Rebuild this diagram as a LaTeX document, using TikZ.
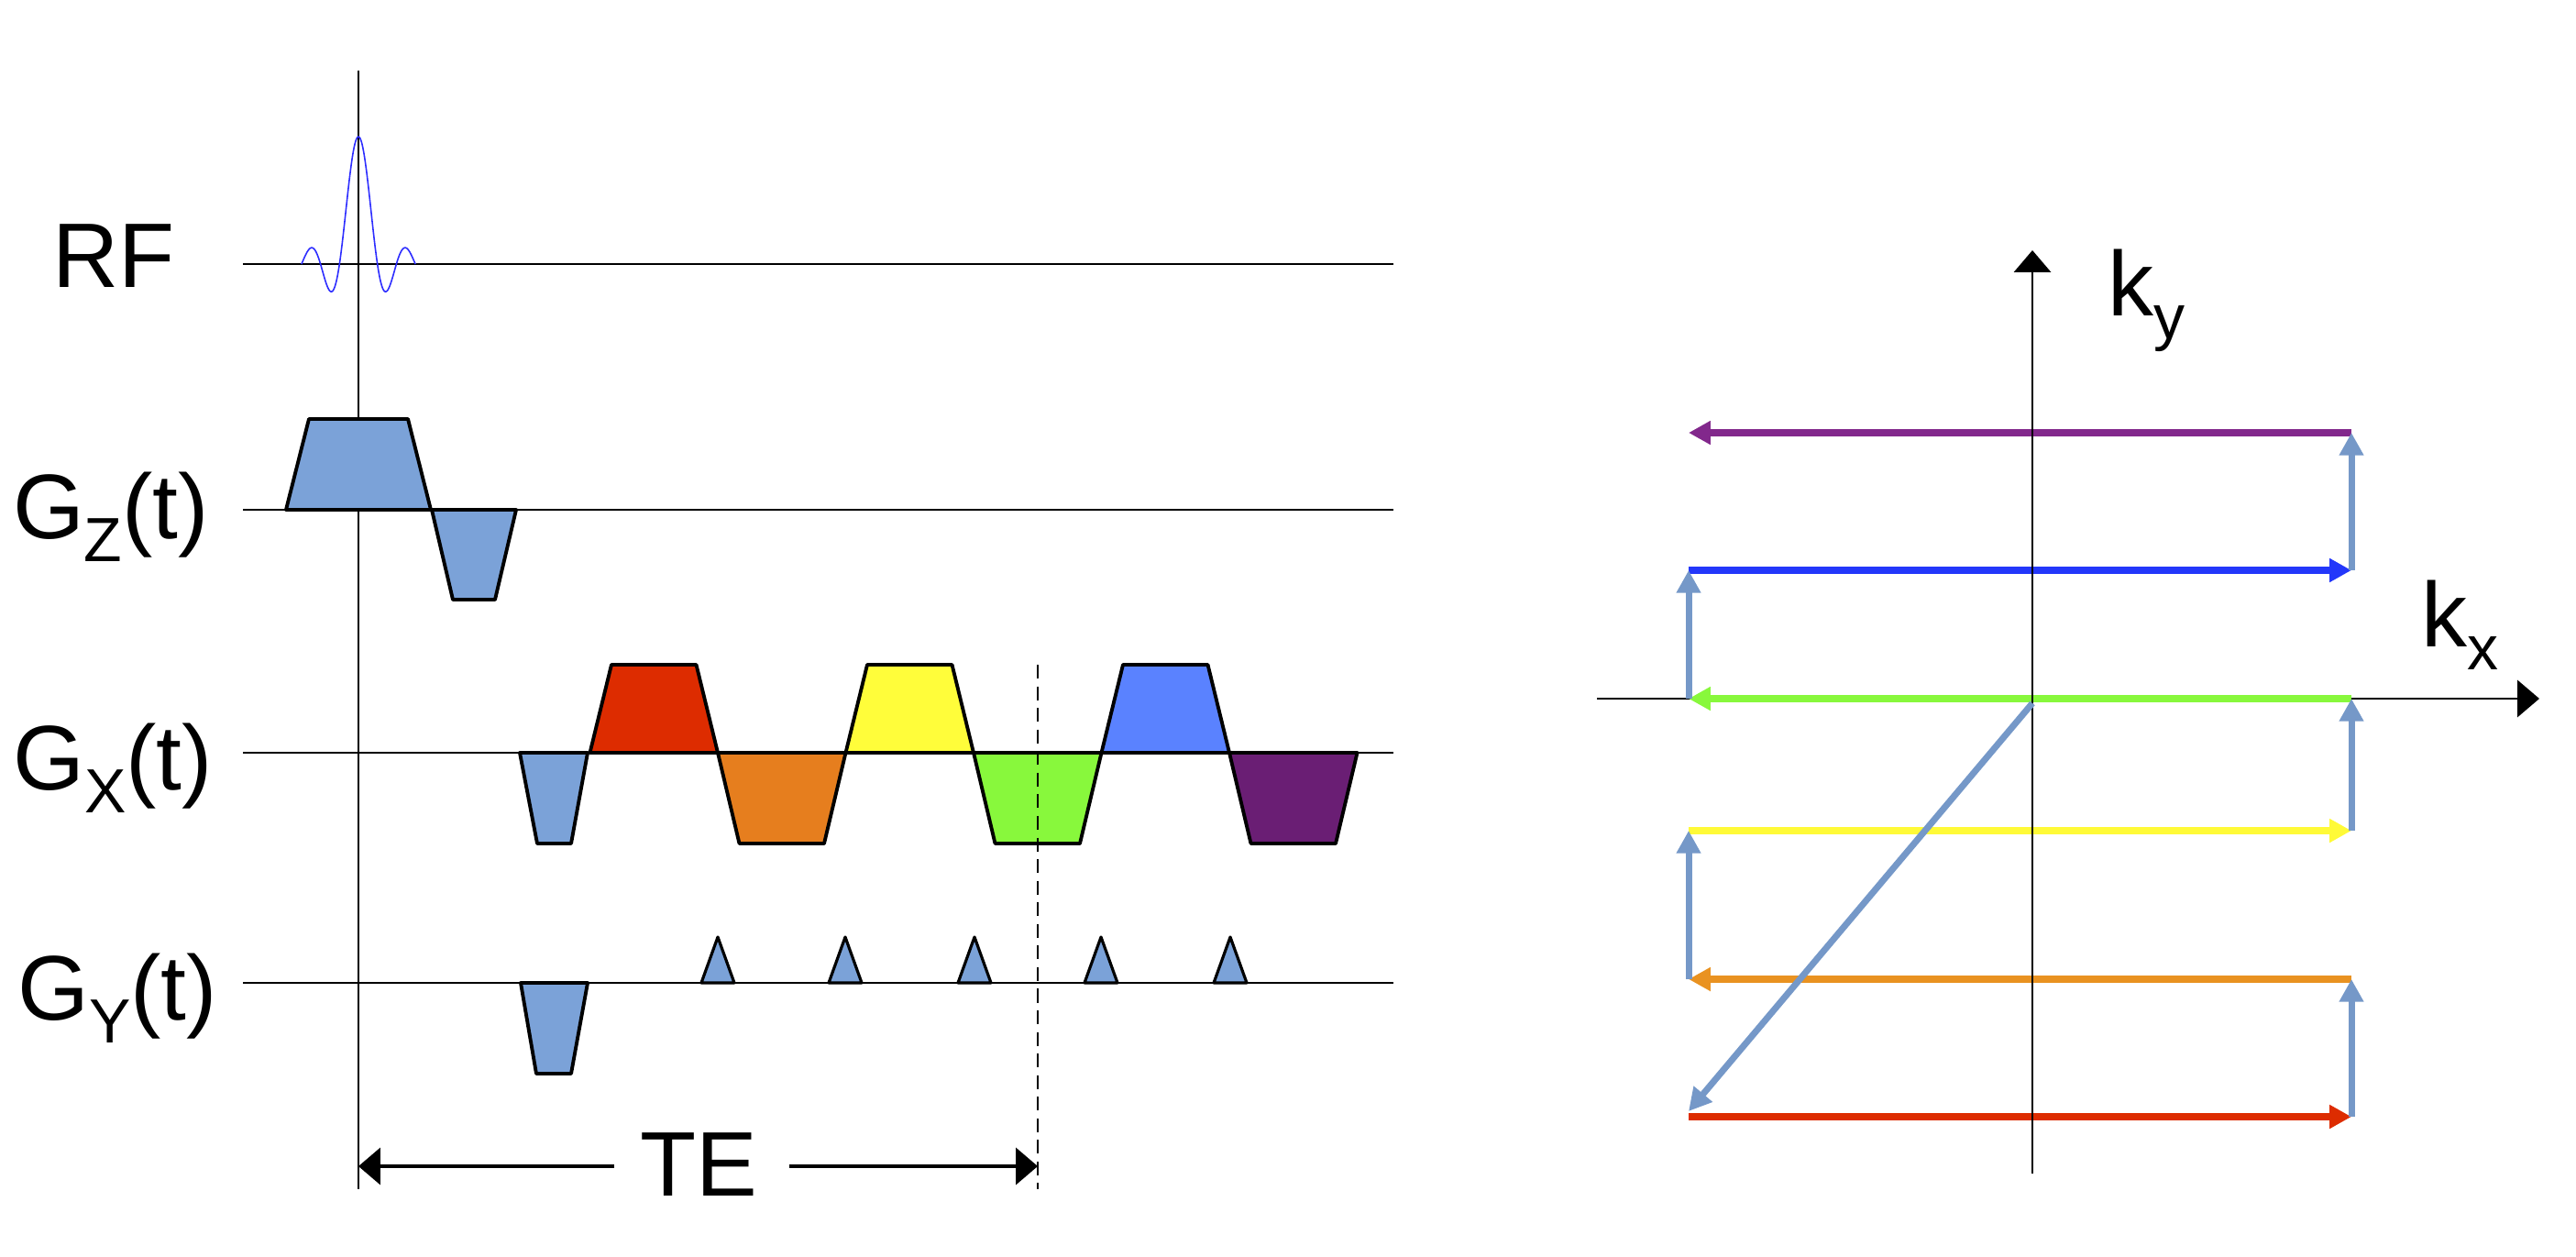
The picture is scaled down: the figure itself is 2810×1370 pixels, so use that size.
\documentclass[tikz,border=0pt]{standalone}
\usepackage{fontspec}
\setmainfont{Liberation Sans}
\usetikzlibrary{arrows.meta}
\definecolor{lobeblue}{RGB}{123,162,216}
\definecolor{gxred}{RGB}{221,44,0}
\definecolor{gxorange}{RGB}{230,126,30}
\definecolor{gxyellow}{RGB}{255,253,58}
\definecolor{gxgreen}{RGB}{136,248,60}
\definecolor{gxblue}{RGB}{90,130,255}
\definecolor{gxpurple}{RGB}{106,30,116}
\definecolor{kpurple}{RGB}{130,40,140}
\definecolor{kblue}{RGB}{35,55,250}
\definecolor{kgreen}{RGB}{136,248,60}
\definecolor{kyellow}{RGB}{255,250,55}
\definecolor{korange}{RGB}{233,146,33}
\definecolor{kred}{RGB}{221,44,0}
\definecolor{kstep}{RGB}{117,152,200}
\definecolor{rfblue}{RGB}{45,45,255}
\newcommand\lsub[1]{\raisebox{-7.2pt}{\fontsize{19.35pt}{20pt}\selectfont #1}}
\tikzset{
  axisline/.style={line width=0.8pt, black},
  lobe/.style={draw=black, line width=1.1pt, line join=round},
  blip/.style={draw=black, line width=0.9pt, line join=round, fill=lobeblue},
  lbl/.style={inner sep=0pt, anchor=base, font=\fontsize{28.45pt}{32pt}\selectfont},
  bigtip/.style={-{Triangle[length=6.8pt,width=11.4pt]}},
  kline/.style={line width=2.3pt, -{Triangle[length=6.8pt,width=7pt]}},
  kstepline/.style={line width=2pt, kstep, -{Triangle[length=7pt,width=7.2pt]}},
}
\begin{document}
\begin{tikzpicture}[x=0.01cm, y=-0.01cm]
\useasboundingbox (0,0) rectangle (2810,1370);
% ---------------- pulse sequence ----------------
% baselines
\draw[axisline] (265,288) coordinate (rfa) -- (1520,288) coordinate (rfb);
\draw[axisline] (265,556) coordinate (gza) -- (1520,556) coordinate (gzb);
\draw[axisline] (265,821) coordinate (gxa) -- (1520,821) coordinate (gxb);
\draw[axisline] (265,1072) coordinate (gya) -- (1520,1072) coordinate (gyb);
% time axis
\draw[axisline] (391,77) coordinate (ta) -- (391,1297) coordinate (tb);
% RF sinc pulse
\draw[rfblue, line width=0.45pt] plot[domain=-3:3, samples=120, smooth]
  ({391+20.7*\x}, {288-139*sin(180*\x)/(pi*\x)});
% Gz
\draw[lobe, fill=lobeblue] (312,556) -- (337,457) -- (445,457) -- (470,556) -- cycle;
\draw[lobe, fill=lobeblue] (471,556) -- (494,654) -- (540,654) -- (563,556) -- cycle;
% Gx prephaser
\draw[lobe, fill=lobeblue] (567,821) -- (586,920) -- (623,920) -- (641,821) -- cycle;
% Gx readout lobes
\foreach \c [count=\i from 0] in {gxred,gxorange,gxyellow,gxgreen,gxblue,gxpurple} {
  \pgfmathsetmacro\s{643.5+139.5*\i}
  \pgfmathsetmacro\h{ifthenelse(mod(\i,2)==0,-96,99)}
  \pgfmathsetmacro\hn{-\h}
  \draw[lobe, fill=\c] (\s,821) -- ++(23.5,\h) -- ++(92.5,0) -- ++(23.5,\hn) -- cycle;
}
% Gy prephaser
\draw[lobe, fill=lobeblue] (568,1072) -- (585,1171) -- (623,1171) -- (641,1072) -- cycle;
% Gy blips
\foreach \bx in {783,922,1063,1201,1342} {
  \draw[blip] (\bx-18,1072) -- (\bx,1022) -- (\bx+18,1072) -- cycle;
}
% echo time marker
\draw[line width=0.6pt, dash pattern=on 4.3pt off 2.4pt] (1132,725) coordinate (da) -- (1132,1297) coordinate (db);
% labels
\node[lbl] (rf) at (124,314) {RF};
\node[lbl] (gz) at (121,587) {G\lsub{Z}(t)};
\node[lbl] (gx) at (123,861) {G\lsub{X}(t)};
\node[lbl] (gy) at (128,1112) {G\lsub{Y}(t)};
\node[lbl] (te) at (762,1304) {TE};
\coordinate (tel) at (670,1272);
\coordinate (teL) at (391,1272);
\coordinate (ter) at (861,1272);
\coordinate (teR) at (1132,1272);
\draw[line width=0.9pt, bigtip] (tel) -- (teL);
\draw[line width=0.9pt, bigtip] (ter) -- (teR);
% ---------------- k-space ----------------
\coordinate (O) at (2217,762);
\coordinate (kxa) at (1742,762);
\coordinate (kxb) at (2770,762);
\coordinate (kya) at (2217,1280);
\coordinate (kyb) at (2217,273);
\draw[axisline, bigtip] (kxa) -- (kxb);
\foreach \n/\yy in {p/472,b/622,g/762,y/906,o/1068,r/1218} {
  \coordinate (\n L) at (1842,\yy);
  \coordinate (\n R) at (2565,\yy);
}
\draw[kline, kpurple] (pR) -- (pL);
\draw[kline, kblue] (bL) -- (bR);
\draw[kline, kgreen] (gR) -- (gL);
\draw[kline, kyellow] (yL) -- (yR);
\draw[kline, korange] (oR) -- (oL);
\draw[kline, kred] (rL) -- (rR);
\draw[axisline, bigtip] (kya) -- (kyb);
% phase-encoding steps
\draw[kstepline] (rR) -- (oR);
\draw[kstepline] (oL) -- (yL);
\draw[kstepline] (yR) -- (gR);
\draw[kstepline] (gL) -- (bL);
\draw[kstepline] (bR) -- (pR);
\coordinate (dstart) at (2217,767);
\coordinate (dend) at (1842,1212);
\draw[kstepline] (dstart) -- (dend);
\node[lbl] (ky) at (2341,344) {k\lsub{y}};
\node[lbl] (kx) at (2683,705) {k\lsub{x}};
\end{tikzpicture}
\end{document}
